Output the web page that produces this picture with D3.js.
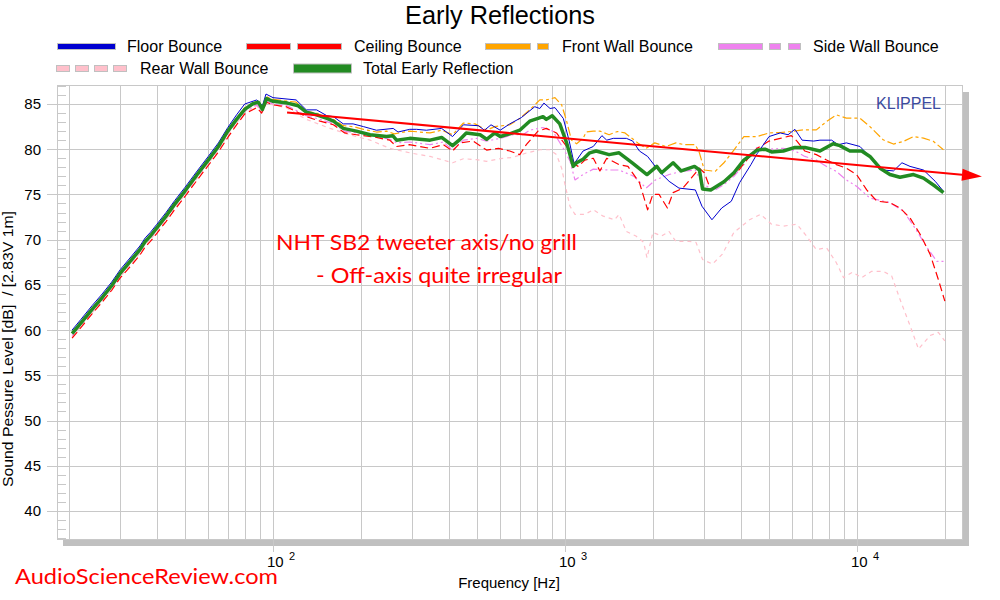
<!DOCTYPE html>
<html>
<head>
<meta charset="utf-8">
<script src="https://cdn.jsdelivr.net/npm/d3@7"></script>
<style>
  body { margin: 0; background: #fff; }
  svg { display: block; font-family: "Liberation Sans", Arial, sans-serif; }
</style>
</head>
<body>
<div id="chart"></div>
<script>
// values: [frequency Hz, level dB]
const floorBounce = [[20.5,60.0],[22,61.2],[24,62.7],[26,64.0],[28,65.3],[30,66.7],[33,68.3],[35,69.3],[36.5,70.2],[38,70.8],[40,71.7],[43,73.0],[46,74.3],[50,75.8],[55,77.6],[60,79.2],[65,80.7],[70,82.4],[75,83.8],[80,85.0],[88,85.45],[92,84.8],[94.6,86.1],[100,85.7],[120,85.45],[130,84.35],[141,84.35],[153,83.7],[161,83.6],[174,82.8],[188,82.8],[204,82.5],[226,82.1],[258,82.3],[268,81.9],[294,82.2],[310,82.2],[335,82.1],[378,82.3],[412,81.4],[449,82.7],[505,82.6],[530,82.1],[558,82.7],[600,82.1],[647,82.8],[709,83.5],[788,84.7],[820,84.5],[847,85.1],[889,84.5],[924,84.6],[987,83.4],[1034,80.9],[1075,78.4],[1153,79.8],[1250,80.3],[1338,81.5],[1390,81.0],[1463,81.2],[1623,81.2],[1706,80.9],[1799,79.8],[1919,79.2],[2100,77.55],[2273,76.45],[2457,75.7],[2796,75.5],[2945,73.7],[3187,72.2],[3443,73.5],[3713,74.25],[3964,76.3],[4335,78.3],[4550,79.5],[5000,81.4],[5460,81.8],[5810,81.6],[6130,82.2],[6490,81.0],[7110,80.9],[7470,81.0],[8190,81.0],[8620,80.5],[9200,80.7],[10240,80.3],[11370,78.8],[12300,77.7],[13340,77.6],[14260,78.5],[15200,78.1],[16900,77.7],[18540,76.45],[19780,75.35]];

const ceilingBounce = [[20.5,59.1],[22,60.3],[24,61.8],[26,63.1],[28,64.4],[30,65.8],[33,67.3],[35,68.3],[36.5,69.2],[38,69.8],[40,70.7],[43,72.0],[46,73.3],[50,74.8],[55,76.6],[60,78.2],[65,79.7],[70,81.3],[75,82.7],[80,83.9],[88,84.6],[91.4,84.0],[95,85.2],[100,84.9],[111,84.7],[130,83.6],[145,83.1],[161,82.7],[176,81.8],[193,81.6],[226,81.3],[251,81.0],[265,80.3],[293,80.5],[345,80.1],[383,80.5],[412,79.8],[437,80.7],[485,80.9],[539,79.9],[592,80.1],[647,79.8],[700,79.4],[737,80.5],[808,82.0],[863,82.3],[935,81.8],[1013,80.3],[1082,78.3],[1110,78.1],[1170,78.8],[1250,79.0],[1317,77.6],[1390,79.0],[1532,78.3],[1643,78.1],[1799,76.3],[1919,73.3],[2000,75.0],[2100,75.0],[2243,73.5],[2346,75.2],[2535,75.7],[2706,76.8],[2887,77.9],[3000,77.4],[3157,75.5],[3600,76.6],[3940,77.7],[4288,79.2],[4550,80.1],[5000,80.9],[5460,81.2],[5960,81.5],[6230,80.9],[6630,79.8],[7260,79.4],[7870,78.8],[8500,78.3],[9200,77.9],[9970,77.2],[10800,75.5],[11700,74.25],[12970,74.1],[14040,73.5],[15200,72.4],[16460,70.6],[17800,68.4],[19000,65.6],[20000,63.2]];

const frontWallBounce = [[20.5,59.7],[22,60.9],[24,62.4],[26,63.7],[28,65.0],[30,66.4],[33,68.0],[35,69.0],[36.5,69.9],[38,70.5],[40,71.4],[43,72.7],[46,74.0],[50,75.5],[55,77.3],[60,78.9],[65,80.4],[70,82.1],[75,83.4],[80,84.6],[88,85.3],[92,84.6],[95,85.8],[100,85.5],[120,85.2],[130,84.2],[141,84.0],[153,83.5],[161,83.3],[174,82.6],[188,82.5],[204,82.2],[226,81.9],[245,82.0],[260,81.7],[294,82.0],[345,81.8],[378,82.1],[412,81.6],[449,82.9],[492,82.8],[539,82.1],[575,82.5],[647,82.7],[700,83.4],[757,84.35],[820,85.45],[863,85.45],[924,85.7],[974,84.9],[1013,83.1],[1053,81.0],[1096,80.6],[1153,81.2],[1183,81.9],[1250,82.0],[1317,82.0],[1416,81.6],[1512,81.96],[1605,81.8],[1776,80.7],[1895,80.1],[2030,80.7],[2219,80.3],[2398,80.7],[2568,80.5],[2796,80.5],[2887,79.6],[3000,77.7],[3270,77.55],[3503,78.5],[3789,79.9],[4100,81.4],[4550,81.4],[5000,81.8],[5460,81.85],[5960,81.96],[6540,82.14],[7260,82.14],[7870,83.06],[8500,83.8],[9200,83.43],[10240,83.43],[11080,82.5],[12300,81.04],[13340,80.57],[14430,80.86],[15620,81.4],[16900,81.23],[18300,80.86],[19780,79.94]];

const sideWallBounce = [[20.5,59.4],[22,60.6],[24,62.1],[26,63.4],[28,64.7],[30,66.1],[33,67.7],[35,68.7],[36.5,69.6],[38,70.2],[40,71.1],[43,72.4],[46,73.7],[50,75.2],[55,77.0],[60,78.6],[65,80.1],[70,81.8],[75,83.1],[80,84.2],[88,84.9],[92,84.2],[95,85.3],[100,85.0],[112,84.8],[130,83.7],[145,83.3],[161,82.8],[176,82.0],[193,81.8],[226,81.4],[251,81.1],[265,80.7],[294,80.8],[345,80.5],[383,80.8],[412,79.9],[449,81.0],[498,81.2],[539,80.9],[600,81.2],[663,81.6],[718,81.6],[757,82.1],[841,82.4],[908,82.0],[987,80.1],[1040,78.7],[1082,76.6],[1153,77.2],[1250,77.8],[1416,77.7],[1532,77.7],[1723,77.0],[1895,75.7],[2040,76.6],[2273,77.2],[2502,77.55],[2796,77.7],[2960,76.1],[3270,75.5],[3503,76.1],[3789,77.0],[4100,78.3],[4288,79.3],[4550,80.2],[5000,80.0],[5595,80.1],[6135,79.8],[6630,79.2],[7260,78.8],[7870,78.1],[8500,77.55],[9200,76.6],[9970,75.9],[11080,74.6],[12970,74.1],[14430,73.15],[15940,71.1],[17240,69.3],[18780,67.6],[19900,67.6]];

const rearWallBounce = [[20.5,59.2],[22,60.4],[24,61.9],[26,63.2],[28,64.5],[30,65.9],[33,67.5],[35,68.5],[36.5,69.4],[38,70.0],[40,70.9],[43,72.2],[46,73.5],[50,75.0],[55,76.8],[60,78.4],[65,79.9],[70,81.6],[75,82.9],[80,84.0],[88,84.8],[92,84.1],[95,85.1],[100,84.9],[111,84.6],[130,83.3],[157,82.3],[183,81.6],[215,81.0],[251,80.1],[294,79.6],[318,79.4],[345,79.2],[383,78.8],[412,78.5],[449,78.95],[498,78.84],[539,78.66],[600,78.95],[663,79.1],[737,79.58],[820,79.94],[889,79.94],[935,79.4],[974,77.9],[1000,76.1],[1040,73.7],[1082,72.8],[1170,72.8],[1250,73.3],[1352,72.6],[1478,72.2],[1532,72.8],[1623,70.9],[1750,70.4],[1860,69.7],[1909,68.0],[2000,70.8],[2143,70.4],[2273,70.9],[2398,69.8],[2660,69.8],[2810,69.7],[2960,67.8],[3200,67.3],[3460,68.4],[3789,70.8],[4288,72.2],[4680,72.8],[5100,71.7],[5595,71.5],[6230,71.7],[6720,70.4],[7260,68.9],[7870,69.1],[8500,67.45],[9000,65.8],[9650,66.4],[10380,65.8],[11230,66.5],[12300,66.5],[13150,66.0],[14040,63.4],[15200,60.5],[16250,57.9],[17800,59.4],[19000,59.75],[20000,58.8]];

const totalEarlyReflection = [[20.5,59.6],[22,60.8],[24,62.3],[26,63.6],[28,64.9],[30,66.3],[33,67.9],[35,68.9],[36.5,69.8],[38,70.4],[40,71.3],[43,72.6],[46,73.9],[50,75.4],[55,77.2],[60,78.8],[65,80.3],[70,82.0],[75,83.3],[80,84.4],[85,85.0],[89,85.2],[92,84.4],[95,85.6],[100,85.3],[112,85.1],[122,84.8],[130,84.1],[141,83.8],[153,83.4],[161,83.1],[174,82.3],[193,82.0],[215,81.6],[245,81.4],[257,81.5],[265,81.0],[294,81.2],[318,81.1],[345,81.0],[378,81.3],[412,80.4],[434,81.0],[459,81.8],[512,81.6],[539,81.1],[575,81.8],[600,81.4],[647,81.7],[700,82.1],[757,83.1],[808,83.4],[841,83.6],[863,83.3],[904,83.7],[960,82.8],[1013,80.7],[1067,78.1],[1096,78.5],[1153,78.9],[1215,79.6],[1279,79.8],[1416,79.4],[1532,79.6],[1700,78.5],[1909,77.2],[2062,78.1],[2143,77.4],[2346,78.5],[2502,77.6],[2778,78.1],[2887,77.7],[2960,75.6],[3157,75.5],[3503,76.4],[3789,77.4],[4100,78.8],[4550,79.9],[4840,80.0],[5100,79.7],[5595,79.8],[6135,80.2],[6632,80.2],[7467,79.8],[8290,80.6],[8740,80.4],[9460,79.8],[10380,79.8],[11080,79.2],[12000,77.9],[12970,77.2],[14040,76.9],[15620,77.2],[16900,76.8],[18540,75.9],[19780,75.2]];

const yTicks = [40, 45, 50, 55, 60, 65, 70, 75, 80, 85];
const yMinorTicks = d3.range(37, 88);
const xGrid = [20,30,40,50,60,70,80,90,100,200,300,400,500,600,700,800,900,1000,2000,3000,4000,5000,6000,7000,8000,9000,10000,20000];
const xDecades = [[100, "2"], [1000, "3"], [10000, "4"]];
// trend arrow, in data units
const trendArrow = [[111.7, 84.05], [26800, 76.97]];

const seriesNames = ["Floor Bounce", "Ceiling Bounce", "Front Wall Bounce", "Side Wall Bounce", "Rear Wall Bounce", "Total Early Reflection"];

const W = 1000, H = 600;
const plot = { left: 57, right: 962, top: 85, bottom: 539 };

const svg = d3.select("#chart").append("svg").attr("width", W).attr("height", H);

const x = d3.scaleLog().domain([18.2, 22900]).range([plot.left, plot.right]);
const y = d3.scaleLinear().domain([36.9, 87.1]).range([plot.bottom, plot.top]);

// shadow + plot box
svg.append("rect")
  .attr("x", plot.left + 6).attr("y", plot.top + 7)
  .attr("width", plot.right - plot.left + 1).attr("height", plot.bottom - plot.top)
  .attr("fill", "#c0c0c0");
svg.append("rect")
  .attr("x", plot.left).attr("y", plot.top)
  .attr("width", plot.right - plot.left).attr("height", plot.bottom - plot.top)
  .attr("fill", "#fff");

const grid = svg.append("g").attr("stroke", "#c8c8c8").attr("stroke-width", 1).attr("shape-rendering", "crispEdges");

grid.selectAll(".vg").data(xGrid).join("line")
  .attr("x1", d => Math.round(x(d)) + 0.5).attr("x2", d => Math.round(x(d)) + 0.5)
  .attr("y1", plot.top)
  .attr("y2", d => xDecades.some(e => e[0] === d) ? plot.bottom + 13 : plot.bottom);

grid.selectAll(".hg").data(yTicks).join("line")
  .attr("x1", plot.left - 10).attr("x2", plot.right)
  .attr("y1", d => Math.round(y(d)) + 0.5).attr("y2", d => Math.round(y(d)) + 0.5);

grid.selectAll(".mt").data(yMinorTicks.filter(d => !yTicks.includes(d))).join("line")
  .attr("x1", plot.left).attr("x2", plot.left + 9)
  .attr("y1", d => Math.round(y(d)) + 0.5).attr("y2", d => Math.round(y(d)) + 0.5);

svg.append("rect")
  .attr("x", plot.left + 0.5).attr("y", plot.top + 0.5)
  .attr("width", plot.right - plot.left).attr("height", plot.bottom - plot.top)
  .attr("fill", "none").attr("stroke", "#c8c8c8").attr("shape-rendering", "crispEdges");

// y tick labels
svg.append("g").selectAll("text").data(yTicks).join("text")
  .attr("x", 41).attr("y", d => y(d) + 5.5)
  .attr("text-anchor", "end").attr("font-size", 15).attr("fill", "#000")
  .text(d => d);

// x decade labels with exponent
const xl = svg.append("g").selectAll("g").data(xDecades).join("g");
xl.append("text").attr("x", d => x(d[0]) - 6).attr("y", 567)
  .attr("font-size", 15).text("10");
xl.append("text").attr("x", d => x(d[0]) + 16).attr("y", 560)
  .attr("font-size", 11).text(d => d[1]);

svg.append("text").attr("x", 509).attr("y", 588).attr("text-anchor", "middle")
  .attr("font-size", 15).text("Frequency [Hz]");

svg.append("text").attr("transform", "translate(13,349) rotate(-90)")
  .attr("text-anchor", "middle").attr("font-size", 15)
  .attr("textLength", 276).attr("lengthAdjust", "spacingAndGlyphs")
  .attr("xml:space", "preserve")
  .text("Sound Pessure Level [dB]  / [2.83V 1m]");

svg.append("text").attr("x", 500).attr("y", 24).attr("text-anchor", "middle")
  .attr("font-size", 25).attr("textLength", 190).attr("lengthAdjust", "spacingAndGlyphs")
  .text("Early Reflections");

svg.append("text").attr("x", 941).attr("y", 109).attr("text-anchor", "end")
  .attr("font-size", 16).attr("fill", "#3b4ba0").text("KLIPPEL");

// curves
const series = [
  { name: seriesNames[0], data: floorBounce, color: "#0000d0", width: 1, dash: null },
  { name: seriesNames[1], data: ceilingBounce, color: "#ff0000", width: 1.2, dash: "8,4" },
  { name: seriesNames[2], data: frontWallBounce, color: "#ffa500", width: 1.2, dash: "9,3,3,3" },
  { name: seriesNames[3], data: sideWallBounce, color: "#ee82ee", width: 1.2, dash: "8,3,2,3,2,3" },
  { name: seriesNames[4], data: rearWallBounce, color: "#ffc0cb", width: 1.2, dash: "4,4" },
  { name: seriesNames[5], data: totalEarlyReflection, color: "#228b22", width: 3.5, dash: null }
];

const line = d3.line().x(d => x(d[0])).y(d => y(d[1]));
const drawOrder = [4, 3, 2, 1, 0, 5];
svg.append("g").selectAll("path").data(drawOrder.map(i => series[i])).join("path")
  .attr("d", d => line(d.data))
  .attr("fill", "none")
  .attr("stroke", d => d.color)
  .attr("stroke-width", d => d.width)
  .attr("stroke-dasharray", d => d.dash)
  .attr("stroke-linejoin", "round");

// annotations
const ann = svg.append("g").attr("fill", "#ff0000").attr("font-family", "Lato, 'Open Sans', sans-serif").attr("font-size", 22);
ann.append("text").attr("x", 276).attr("y", 250).attr("textLength", 301).attr("lengthAdjust", "spacingAndGlyphs")
  .text("NHT SB2 tweeter axis/no grill");
ann.append("text").attr("x", 316).attr("y", 283).attr("textLength", 246).attr("lengthAdjust", "spacingAndGlyphs")
  .text("- Off-axis quite irregular");
ann.append("text").attr("x", 15).attr("y", 584).attr("textLength", 263).attr("lengthAdjust", "spacingAndGlyphs")
  .text("AudioScienceReview.com");

// trend arrow
const p0 = [x(trendArrow[0][0]), y(trendArrow[0][1])];
const p1 = [x(trendArrow[1][0]), y(trendArrow[1][1])];
const ang = Math.atan2(p1[1] - p0[1], p1[0] - p0[0]);
const headLen = 20, headW = 6;
const base = [p1[0] - headLen * Math.cos(ang), p1[1] - headLen * Math.sin(ang)];
svg.append("line")
  .attr("x1", p0[0]).attr("y1", p0[1]).attr("x2", base[0]).attr("y2", base[1])
  .attr("stroke", "#ff0000").attr("stroke-width", 2);
svg.append("path")
  .attr("d", `M${p1[0]},${p1[1]}L${base[0] - headW * Math.sin(ang)},${base[1] + headW * Math.cos(ang)}L${base[0] + headW * Math.sin(ang)},${base[1] - headW * Math.cos(ang)}Z`)
  .attr("fill", "#ff0000");

// legend
const legend = [
  { s: 0, x: 57, row: 0, segs: [[0, 58]], tx: 127 },
  { s: 1, x: 246, row: 0, segs: [[0, 44], [51, 95]], tx: 354 },
  { s: 2, x: 485, row: 0, segs: [[0, 45], [52, 63]], tx: 562 },
  { s: 3, x: 718, row: 0, segs: [[0, 44], [51, 62], [70, 82]], tx: 813 },
  { s: 4, x: 56, row: 1, segs: [[0, 13], [19, 32], [38, 51], [57, 70]], tx: 140 },
  { s: 5, x: 293, row: 1, segs: [[0, 58]], tx: 363 }
];
const rowY = [46, 68];
const lg = svg.append("g").selectAll("g").data(legend).join("g");
lg.each(function (d) {
  const g = d3.select(this);
  const h = d.s === 5 ? 9 : 6;
  g.selectAll("rect").data(d.segs).join("rect")
    .attr("x", s => d.x + s[0] + 0.5).attr("y", rowY[d.row] - h / 2 + 0.5)
    .attr("width", s => s[1] - s[0]).attr("height", h)
    .attr("fill", series[d.s].color).attr("stroke", "#c0c0c0").attr("stroke-width", 1);
  g.append("text").attr("x", d.tx).attr("y", rowY[d.row] + 6)
    .attr("font-size", 16).text(series[d.s].name);
});
</script>
</body>
</html>
